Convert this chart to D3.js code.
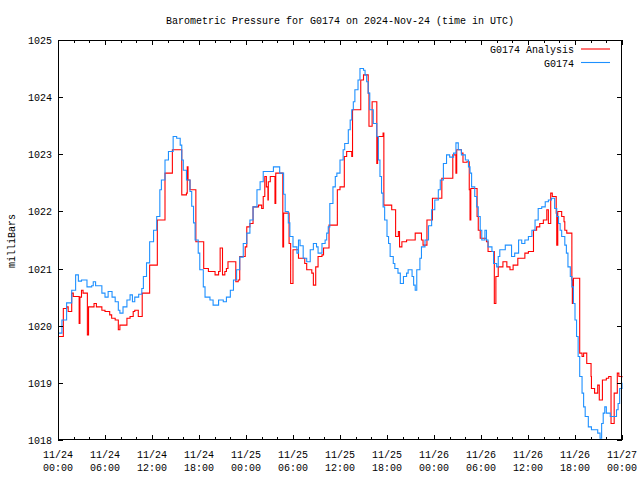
<!DOCTYPE html>
<html><head><meta charset="utf-8">
<script src="https://cdn.jsdelivr.net/npm/d3@7"></script>
<style>
html,body{margin:0;padding:0;background:#fff;}
svg text{font-family:"Liberation Mono","DejaVu Sans Mono",monospace;font-size:10px;fill:#000;}
</style></head>
<body>
<svg id="c" width="640" height="480"></svg>
<script>
// Hours since 2024-11-24 00:00 UTC
const obsHours = [0.0,0.5,1.1,1.75,2.25,2.6,3.0,3.7,4.3,4.5,4.8,5.6,6.0,6.4,6.9,7.3,7.7,7.9,8.3,8.8,9.2,9.5,9.8,10.3,10.7,10.9,11.3,11.7,12.2,12.6,13.0,13.2,13.66,14.1,14.7,15.15,15.6,15.8,16.0,16.4,16.85,17.07,17.3,17.5,17.9,18.1,18.55,18.77,19.4,19.8,20.5,21.1,21.5,22.0,22.4,22.8,23.2,23.65,24.1,24.5,24.9,25.4,25.8,26.2,27.1,27.5,28.3,28.8,29.0,29.4,29.6,30.0,30.5,30.7,30.9,31.3,31.75,32.2,32.6,33.0,33.2,33.7,34.1,34.3,34.5,34.7,35.1,35.4,35.6,36.0,36.4,36.6,37.06,37.3,37.5,37.7,37.9,38.3,38.55,39.0,39.2,39.4,39.6,39.8,40.25,40.7,40.9,41.1,41.3,41.5,41.7,42.0,42.2,42.4,42.8,43.0,43.4,43.7,44.1,44.5,44.7,45.2,45.4,45.6,45.8,46.2,46.4,46.85,47.3,47.7,48.1,48.55,48.8,49.2,49.6,50.0,50.5,50.8,51.1,51.5,52.0,52.4,52.6,52.8,53.2,53.45,53.65,53.9,54.1,54.5,54.7,54.9,55.4,55.6,56.0,56.2,56.4,57.1,57.9,58.3,58.8,59.2,59.6,60.05,60.5,60.9,61.3,61.75,62.2,62.6,63.0,63.4,63.67,63.9,64.1,64.3,64.7,64.9,65.1,65.4,65.6,65.8,66.0,66.2,66.4,66.6,66.9,67.1,67.3,67.7,68.1,68.9,69.2,69.4,69.6,69.8,70.0,70.5,71.3,71.5,71.7,72.0];
const obsValues = [1019.87,1020.1,1020.4,1020.62,1020.89,1020.78,1020.8,1020.68,1020.7,1020.77,1020.7,1020.57,1020.5,1020.6,1020.5,1020.42,1020.27,1020.22,1020.33,1020.45,1020.54,1020.42,1020.5,1020.55,1020.65,1020.86,1021.1,1021.47,1021.67,1021.91,1022.38,1022.55,1022.9,1023.05,1023.31,1023.28,1023.16,1022.9,1022.72,1022.55,1022.35,1022.09,1021.8,1021.5,1021.27,1020.98,1020.68,1020.5,1020.45,1020.36,1020.45,1020.42,1020.5,1020.62,1020.8,1020.98,1021.2,1021.44,1021.62,1021.85,1022.08,1022.38,1022.52,1022.7,1022.7,1022.78,1022.67,1022.3,1022.0,1021.8,1021.56,1021.38,1021.27,1021.5,1021.4,1021.18,1021.12,1021.33,1021.44,1021.38,1021.27,1021.44,1021.5,1021.62,1021.73,1022.14,1022.43,1022.61,1022.67,1022.9,1023.08,1023.19,1023.43,1023.6,1023.78,1023.92,1024.13,1024.3,1024.5,1024.47,1024.39,1024.27,1024.07,1023.78,1023.54,1023.31,1022.9,1022.61,1022.32,1022.08,1021.85,1021.56,1021.44,1021.21,1021.09,1021.0,1020.92,1020.74,1020.86,1020.92,1020.98,1020.86,1020.71,1020.62,1020.98,1021.18,1021.38,1021.5,1021.75,1022.03,1022.2,1022.38,1022.55,1022.84,1022.99,1022.95,1023.02,1023.2,1023.08,1022.99,1022.9,1022.78,1022.67,1022.43,1022.26,1022.08,1021.91,1021.67,1021.5,1021.67,1021.5,1021.38,1021.3,1021.09,1021.03,1021.21,1021.33,1021.41,1021.21,1021.27,1021.5,1021.44,1021.5,1021.56,1021.67,1021.85,1022.05,1022.08,1022.17,1022.2,1022.23,1022.05,1021.91,1021.79,1021.67,1021.56,1021.41,1021.27,1021.03,1020.86,1020.68,1020.39,1020.1,1019.81,1019.46,1019.11,1018.82,1018.58,1018.41,1018.23,1018.18,1018.12,1018.03,1018.29,1018.47,1018.58,1018.47,1018.41,1018.53,1018.64,1018.9,1019.0];

const anaHours = [0.0,0.68,1.1,1.3,1.75,1.95,2.7,2.8,3.0,3.2,3.75,3.9,4.6,4.9,5.6,6.0,6.6,6.85,7.3,7.7,7.9,8.8,9.2,9.6,9.8,10.25,10.75,11.7,12.68,13.66,14.6,15.8,16.4,16.5,16.6,16.85,17.6,18.6,19.2,20.05,20.5,20.7,21.0,21.3,21.5,21.7,22.7,23.0,23.2,23.9,24.1,24.5,24.9,25.6,26.0,26.2,26.4,26.6,26.8,26.85,27.1,27.7,27.8,28.7,28.8,29.5,29.7,30.0,30.7,31.5,31.75,32.4,32.6,32.9,33.2,33.7,33.9,34.6,35.66,36.0,36.55,36.85,37.5,37.6,38.65,39.0,39.6,39.7,40.1,40.7,40.8,41.5,41.6,42.6,43.1,43.45,43.6,43.9,44.5,45.6,46.4,46.6,47.1,47.8,49.0,50.4,50.8,50.9,51.5,51.7,52.2,52.5,52.6,52.7,53.5,53.65,53.9,54.7,54.9,55.7,55.9,56.2,56.8,57.3,57.7,58.1,58.7,59.6,60.05,60.7,61.1,61.5,61.96,62.4,62.6,62.9,63.1,63.6,63.67,63.8,64.3,64.6,64.7,64.95,65.6,65.66,65.8,66.6,66.9,67.1,67.5,68.05,68.1,68.5,68.9,69.1,69.5,70.0,70.3,70.6,71.0,71.4,71.6,72.0];
const anaValues = [1019.81,1020.3,1020.33,1020.25,1020.57,1020.51,1020.04,1020.5,1020.62,1020.57,1019.84,1020.33,1020.39,1020.33,1020.27,1020.25,1020.19,1020.13,1020.1,1019.93,1020.01,1020.13,1020.16,1020.25,1020.27,1020.16,1020.57,1021.06,1021.85,1022.67,1023.08,1022.29,1022.32,1022.78,1022.55,1022.38,1021.47,1021.0,1020.95,1020.89,1020.95,1021.36,1020.89,1020.95,1021.0,1021.12,1020.77,1020.8,1021.21,1021.38,1021.73,1021.79,1022.08,1022.11,1022.05,1022.26,1022.61,1022.43,1022.2,1022.52,1022.61,1022.14,1022.67,1021.38,1021.97,1021.44,1020.74,1021.33,1021.18,1021.09,1020.98,1020.92,1020.71,1021.03,1021.21,1021.24,1021.36,1021.76,1022.38,1022.43,1022.96,1023.05,1022.96,1023.78,1024.3,1024.39,1024.07,1023.49,1023.92,1022.84,1023.31,1023.37,1022.11,1022.03,1021.56,1021.65,1021.38,1021.47,1021.5,1021.62,1021.5,1021.41,1021.85,1022.23,1022.58,1022.99,1022.67,1023.08,1023.02,1022.86,1022.87,1022.38,1021.85,1022.4,1021.91,1021.67,1021.53,1021.47,1021.3,1020.39,1020.86,1021.03,1021.12,1021.03,1020.98,1021.06,1021.18,1021.27,1021.3,1021.67,1021.73,1021.79,1021.85,1022.03,1021.79,1022.32,1022.26,1021.97,1021.41,1022.0,1021.91,1021.82,1021.67,1021.62,1020.8,1020.39,1020.83,1019.52,1019.46,1019.52,1019.34,1019.11,1018.9,1018.82,1018.96,1018.7,1019.05,1019.08,1019.11,1018.29,1018.82,1019.17,1019.11,1019.1];

const yTicks = [1018,1019,1020,1021,1022,1023,1024,1025];
const xTickHours = [0,6,12,18,24,30,36,42,48,54,60,66,72];
const xTickDates = ["11/24","11/24","11/24","11/24","11/25","11/25","11/25","11/25","11/26","11/26","11/26","11/26","11/27"];
const xTickTimes = ["00:00","06:00","12:00","18:00","00:00","06:00","12:00","18:00","00:00","06:00","12:00","18:00","00:00"];
const seriesNames = ["G0174 Analysis","G0174"];
const seriesColors = ["#ff0000","#1e90ff"];
const titleText = "Barometric Pressure for G0174 on 2024-Nov-24 (time in UTC)";

(function(){
const svg = d3.select("#c");
const L=58, R=622, T=40, B=440;
const x = d3.scaleLinear().domain([0,72]).range([L,R]);
const y = d3.scaleLinear().domain([1018,1025]).range([B,T]);

svg.append("text").attr("x",(L+R)/2).attr("y",24).attr("text-anchor","middle").text(titleText);

const line = d3.line().x(d=>x(d[0])).y(d=>y(d[1])).curve(d3.curveStepAfter);
const anaData = anaHours.map((h,i)=>[h,anaValues[i]]);
const obsData = obsHours.map((h,i)=>[h,obsValues[i]]);
const g = svg.append("g");
g.append("path").datum(anaData).attr("d",line).attr("fill","none").attr("stroke",seriesColors[0]).attr("stroke-width",1.1);
g.append("path").datum(obsData).attr("d",line).attr("fill","none").attr("stroke",seriesColors[1]).attr("stroke-width",1.1);

const minorHours = d3.range(0,73,2).filter(h=>h%6!==0);
function axisSet(axisGen, transform){ return svg.append("g").attr("transform",transform).call(axisGen); }
axisSet(d3.axisTop(x).tickValues(xTickHours).tickSize(5).tickFormat(""), `translate(0,${B})`);
axisSet(d3.axisTop(x).tickValues(minorHours).tickSize(3).tickFormat(""), `translate(0,${B})`);
axisSet(d3.axisBottom(x).tickValues(xTickHours).tickSize(5).tickFormat(""), `translate(0,${T})`);
axisSet(d3.axisBottom(x).tickValues(minorHours).tickSize(3).tickFormat(""), `translate(0,${T})`);
axisSet(d3.axisRight(y).tickValues(yTicks).tickSize(5).tickFormat(""), `translate(${L},0)`);
axisSet(d3.axisLeft(y).tickValues(yTicks).tickSize(5).tickFormat(""), `translate(${R},0)`);
svg.selectAll(".domain").remove();
svg.selectAll(".tick line").attr("stroke","#000").attr("shape-rendering","crispEdges");

svg.append("rect").attr("x",L+0.5).attr("y",T+0.5).attr("width",R-L-1).attr("height",B-T-1)
  .attr("fill","none").attr("stroke","#000").attr("shape-rendering","crispEdges");

svg.append("g").selectAll("text").data(yTicks).join("text")
  .attr("x",52).attr("y",d=>y(d)+4).attr("text-anchor","end").text(d=>d);
const xl = svg.append("g");
xl.selectAll("text.d").data(xTickHours).join("text").attr("class","d")
  .attr("x",d=>x(d)).attr("y",458).attr("text-anchor","middle").text((d,i)=>xTickDates[i]);
xl.selectAll("text.t").data(xTickHours).join("text").attr("class","t")
  .attr("x",d=>x(d)).attr("y",471).attr("text-anchor","middle").text((d,i)=>xTickTimes[i]);

svg.append("text").attr("transform","translate(15,241) rotate(-90)").attr("text-anchor","middle").text("milliBars");

const leg = svg.append("g");
seriesNames.forEach((n,i)=>{
  const yy = 49 + i*13.5;
  leg.append("text").attr("x",574).attr("y",yy+4).attr("text-anchor","end").text(n);
  leg.append("line").attr("x1",581).attr("x2",610).attr("y1",yy).attr("y2",yy)
    .attr("stroke",seriesColors[i]).attr("stroke-width",1.1);
});
})();
</script>
</body></html>
